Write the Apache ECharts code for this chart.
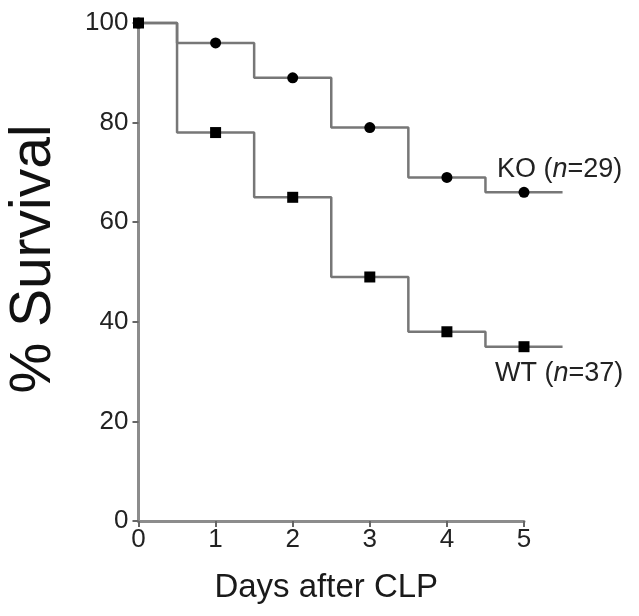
<!DOCTYPE html>
<html>
<head>
<meta charset="utf-8">
<script src="https://cdn.jsdelivr.net/npm/echarts@6/dist/echarts.min.js"></script>
<style>html,body{margin:0;padding:0;background:#fff}#c{width:639px;height:616px}</style>
</head>
<body>
<div id="c"></div>
<script>
// Data
var days = [0, 1, 2, 3, 4, 5, 5.5];
var koSurvival = [100, 96, 89, 79, 69, 66, 66];
var wtSurvival = [100, 78, 65, 49, 38, 35, 35];
var xTicks = [0, 1, 2, 3, 4, 5];
var yTicks = [0, 20, 40, 60, 80, 100];
var lineEnd = 5.5;

function build(vals) {
  return days.map(function (d, i) {
    var p = { value: [d, vals[i]] };
    if (d > xTicks[xTicks.length - 1]) p.symbol = 'none';
    return p;
  });
}

var chart = echarts.init(document.getElementById('c'), null, { renderer: 'canvas' });
var font = '"Liberation Sans", Arial, sans-serif';
var axisGray = '#8c8c8c';
var L = 138.5, T = 23, B = 95, R = 115;
var pxPerDay = (639 - L - R) / (xTicks[xTicks.length - 1] - xTicks[0]);
var R2 = R - pxPerDay * (lineEnd - xTicks[xTicks.length - 1]);
var rich = {
  a: { fontSize: 27, fill: '#222', fontFamily: font },
  i: { fontSize: 27, fill: '#222', fontFamily: font, fontStyle: 'italic' }
};
chart.setOption({
  animation: false,
  backgroundColor: '#fff',
  textStyle: { fontFamily: font },
  grid: [
    { left: L, right: R, top: T, bottom: B, containLabel: false, outerBoundsMode: 'none' },
    { left: L, right: R2, top: T, bottom: B, containLabel: false, outerBoundsMode: 'none' }
  ],
  xAxis: [{
    gridIndex: 0,
    type: 'value', min: xTicks[0], max: xTicks[xTicks.length - 1], interval: 1,
    name: 'Days after CLP', nameLocation: 'middle', nameGap: 50,
    nameTextStyle: { fontSize: 33, color: '#1a1a1a', fontFamily: font, padding: [0, 10, 0, 0] },
    axisLine: { lineStyle: { color: axisGray, width: 3 } },
    axisTick: { show: true, inside: false, length: 6, lineStyle: { color: '#666', width: 2 } },
    splitLine: { show: false },
    axisLabel: { fontSize: 26, color: '#222', margin: 6, fontFamily: font }
  }, {
    gridIndex: 1, type: 'value', min: xTicks[0], max: lineEnd, show: false
  }],
  yAxis: [{
    gridIndex: 0,
    type: 'value', min: yTicks[0], max: yTicks[yTicks.length - 1], interval: 20,
    name: '% Survival', nameLocation: 'middle', nameGap: 76, nameRotate: 90,
    nameTextStyle: { fontSize: 57, color: '#111', fontFamily: font, padding: [0, 0, 0, 26] },
    axisLine: { show: true, lineStyle: { color: axisGray, width: 3 } },
    axisTick: { show: true, inside: false, length: 6, lineStyle: { color: '#666', width: 2 } },
    splitLine: { show: false },
    axisLabel: { fontSize: 26, color: '#222', margin: 10, fontFamily: font }
  }, {
    gridIndex: 1, type: 'value', min: yTicks[0], max: yTicks[yTicks.length - 1], show: false
  }],
  series: [
    {
      name: 'KO', type: 'line', step: 'middle', clip: false,
      xAxisIndex: 1, yAxisIndex: 1,
      data: build(koSurvival),
      symbol: 'circle', symbolSize: 11,
      itemStyle: { color: '#000' },
      lineStyle: { color: '#777', width: 2.5 },
      z: 3
    },
    {
      name: 'WT', type: 'line', step: 'middle', clip: false,
      xAxisIndex: 1, yAxisIndex: 1,
      data: build(wtSurvival),
      symbol: 'rect', symbolSize: 11,
      itemStyle: { color: '#000' },
      lineStyle: { color: '#777', width: 2.5 },
      z: 4
    }
  ],
  graphic: [
    { type: 'text', left: 497, top: 156, style: { text: '{a|KO (}{i|n}{a|=29)}', rich: rich } },
    { type: 'text', left: 495, top: 360, style: { text: '{a|WT (}{i|n}{a|=37)}', rich: rich } }
  ]
});
</script>
</body>
</html>
